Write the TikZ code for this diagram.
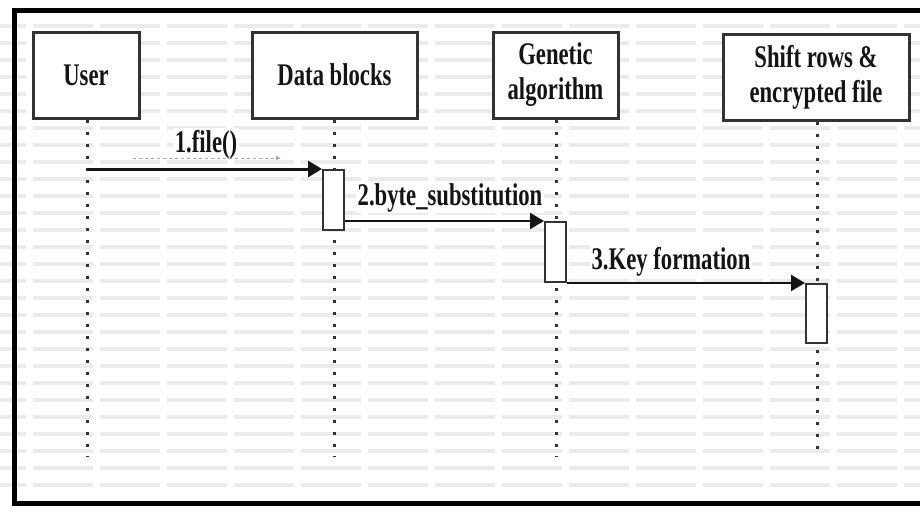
\documentclass[tikz,border=0pt]{standalone}
\usepackage{fontspec}
\setmainfont[FakeStretch=0.72]{Liberation Serif}
\usetikzlibrary{arrows.meta}
\definecolor{ink}{HTML}{141414}
\definecolor{edge}{HTML}{333333}
\definecolor{wm}{HTML}{EBEBEB}
\tikzset{
  lifebox/.style={draw=edge, line width=3pt, fill=white, inner sep=0pt,
    align=center, text=ink, font=\bfseries\fontsize{31.5}{35}\selectfont},
  actbox/.style={draw=edge, line width=2pt, fill=white, inner sep=0pt,
    minimum width=21pt, minimum height=60pt},
  lifeline/.style={draw=edge, line width=3pt, dash pattern=on 3.5pt off 8.5pt},
  msg/.style={draw=ink, line width=2.2pt, -{Triangle[length=14pt,width=16pt]}},
  msglabel/.style={fill=white, inner sep=1.5pt, text=ink, anchor=base,
    font=\bfseries\fontsize{31.5}{35}\selectfont},
  frame/.style={draw=black, line width=5pt}
}
\begin{document}
\begin{tikzpicture}[x=1pt, y=-1pt]
\useasboundingbox (0,0) rectangle (920,514);
\fill[white] (0,0) rectangle (920,514);

% faint tiled background texture
\foreach \r in {0,...,27}{
  \foreach \c in {0,...,14}{
    \fill[wm] ({-34+67*\c}, {26+17*\r-2}) rectangle ++(60,4);
  }
}

% outer frame (runs off the right edge)
\draw[frame] (935,10) -- (14,10) -- (14,503) -- (935,503);

% participants
\node[lifebox, minimum width=106pt, minimum height=86pt] (user)    at (86,75)    {User};
\node[lifebox, minimum width=165pt, minimum height=86pt] (data)    at (334.5,75) {Data blocks};
\node[lifebox, minimum width=125pt, minimum height=86pt] (genetic) at (555.5,75) {Genetic\\algorithm};
\node[lifebox, minimum width=186pt, minimum height=86pt] (shift)   at (816,77)   {Shift rows \&\\encrypted file};

% lifeline ends
\coordinate (userend)    at (87,456);
\coordinate (dataend)    at (334,456);
\coordinate (geneticend) at (556,456);
\coordinate (shiftend)   at (817,456);

\draw[lifeline] (user.south -| userend) -- (userend);
\draw[lifeline] (data.south -| dataend) -- (dataend);
\draw[lifeline] (genetic.south -| geneticend) -- (geneticend);
\draw[lifeline] (shift.south -| shiftend) -- (shiftend);

% activation bars
\node[actbox, anchor=north] (act1) at (333.5,169) {};
\node[actbox, anchor=north] (act2) at (555.5,221) {};
\node[actbox, anchor=north, minimum height=59pt] (act3) at (816.5,283) {};

% messages
\coordinate (ustart) at (userend |- act1.north);
\coordinate (gstart) at (act1.east |- act2.north);
\coordinate (sstart) at (act2.east |- act3.north);

\node[msglabel] (l1) at (206,152) {1.file()};
\node[msglabel] (l2) at (450,205) {2.byte\_substitution};
\node[msglabel] (l3) at (671,269) {3.Key formation};

% faint stroke under the first label
\coordinate (ghostA) at (133,158);
\coordinate (ghostB) at (281,158);
\draw[gray!70, line width=1pt, dashed, -{Latex[length=5pt,width=5pt]}] (ghostA) -- (ghostB);

\draw[msg, line width=3pt] (ustart) -- (act1.north west);
\draw[msg] (gstart) -- (act2.north west);
\draw[msg] (sstart) -- (act3.north west);
\end{tikzpicture}
\end{document}
